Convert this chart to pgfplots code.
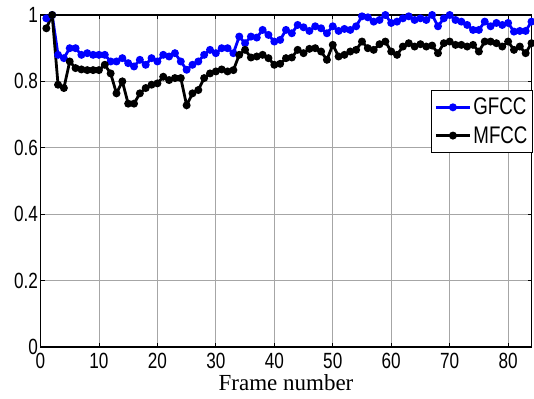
\documentclass[border=0pt]{standalone}
\usepackage{fontspec}
\setmainfont{Liberation Serif}
\newfontfamily\ticksans[FakeStretch=0.78]{Liberation Sans}
\usepackage{pgfplots}
\pgfplotsset{compat=1.18}
\begin{document}
\begin{tikzpicture}
\begin{axis}[
  scale only axis,
  width=491pt, height=332pt,
  xmin=0, xmax=84, ymin=0, ymax=1,
  xtick={0,10,...,80},
  ytick={0,0.2,...,1},
  yticklabels={0,0.2,0.4,0.6,0.8,1},
  xticklabels={0,10,20,30,40,50,60,70,80},
  tick align=inside,
  tick pos=both,
  major tick length=4pt,
  grid=major,
  major grid style={gray!70, line width=0.8pt},
  axis line style={black, line width=1.2pt},
  tick style={black, line width=0.8pt},
  ticklabel style={font=\ticksans\fontsize{22}{22}\selectfont},
  xticklabel style={yshift=-3pt},
  yticklabel style={xshift=1pt},
  xlabel={Frame number},
  xlabel style={font=\fontsize{23}{23}\selectfont, yshift=1pt},
  legend style={at={(rel axis cs:1.003,0.775)}, anchor=north east,
    draw=black, line width=1pt, fill=white,
    font=\ticksans\fontsize{24}{25}\selectfont,
    row sep=6pt, inner xsep=3pt, inner ysep=6pt},
  legend cell align=left,
  legend image code/.code={
    \draw[mark repeat=2,mark phase=2,#1] plot coordinates {(0cm,0cm) (0.6cm,0cm) (1.2cm,0cm)};
  },
]
\addplot[blue, line width=2.8pt, mark=*, mark size=2.5pt, mark options={solid}] coordinates {
(1,0.99)(2,1.0)(3,0.88)(4,0.87)(5,0.90)(6,0.90)(7,0.88)(8,0.885)(9,0.88)(10,0.88)
(11,0.88)(12,0.86)(13,0.86)(14,0.87)(15,0.855)(16,0.845)(17,0.865)(18,0.85)(19,0.87)(20,0.86)
(21,0.88)(22,0.875)(23,0.885)(24,0.86)(25,0.835)(26,0.85)(27,0.86)(28,0.88)(29,0.895)(30,0.885)
(31,0.90)(32,0.90)(33,0.885)(34,0.935)(35,0.915)(36,0.935)(37,0.932)(38,0.955)(39,0.94)(40,0.92)
(41,0.925)(42,0.955)(43,0.945)(44,0.97)(45,0.963)(46,0.952)(47,0.966)(48,0.96)(49,0.945)(50,0.966)
(51,0.952)(52,0.958)(53,0.955)(54,0.966)(55,0.996)(56,0.993)(57,0.98)(58,0.985)(59,1.0)(60,0.976)
(61,0.98)(62,0.99)(63,0.996)(64,0.985)(65,0.99)(66,0.985)(67,1.0)(68,0.966)(69,0.99)(70,1.0)
(71,0.985)(72,0.98)(73,0.97)(74,0.955)(75,0.955)(76,0.98)(77,0.966)(78,0.976)(79,0.97)(80,0.976)
(81,0.95)(82,0.952)(83,0.952)(84,0.98)
};
\addlegendentry{GFCC}
\addplot[black, line width=2.8pt, mark=*, mark size=2.5pt, mark options={solid}] coordinates {
(1,0.96)(2,1.0)(3,0.79)(4,0.78)(5,0.86)(6,0.84)(7,0.836)(8,0.834)(9,0.834)(10,0.834)
(11,0.85)(12,0.824)(13,0.764)(14,0.80)(15,0.733)(16,0.733)(17,0.764)(18,0.78)(19,0.79)(20,0.794)
(21,0.814)(22,0.804)(23,0.81)(24,0.81)(25,0.728)(26,0.764)(27,0.774)(28,0.81)(29,0.824)(30,0.83)
(31,0.836)(32,0.83)(33,0.834)(34,0.88)(35,0.895)(36,0.872)(37,0.875)(38,0.88)(39,0.87)(40,0.85)
(41,0.853)(42,0.87)(43,0.872)(44,0.895)(45,0.885)(46,0.898)(47,0.90)(48,0.89)(49,0.865)(50,0.91)
(51,0.875)(52,0.88)(53,0.89)(54,0.895)(55,0.92)(56,0.90)(57,0.895)(58,0.912)(59,0.92)(60,0.89)
(61,0.88)(62,0.905)(63,0.915)(64,0.905)(65,0.912)(66,0.905)(67,0.908)(68,0.885)(69,0.915)(70,0.92)
(71,0.91)(72,0.91)(73,0.905)(74,0.91)(75,0.89)(76,0.92)(77,0.92)(78,0.915)(79,0.905)(80,0.92)
(81,0.895)(82,0.905)(83,0.885)(84,0.915)
};
\addlegendentry{MFCC}
\end{axis}
\path (current axis.south west) ++(-40.5pt,-51pt) rectangle ++(534pt,398pt);
\end{tikzpicture}
\end{document}
